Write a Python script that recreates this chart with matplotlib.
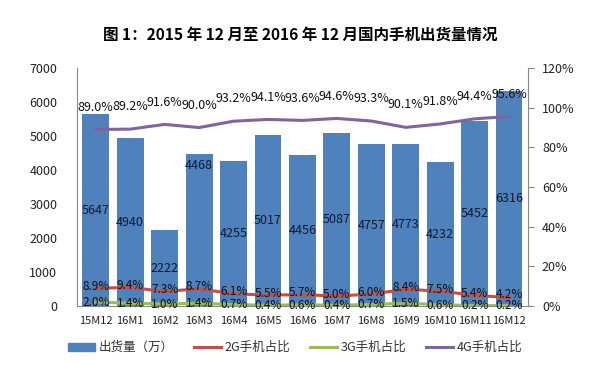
import matplotlib.pyplot as plt
from matplotlib.lines import Line2D
from matplotlib.patches import Patch

plt.rcParams['font.family'] = ['Noto Sans CJK SC', 'DejaVu Sans']

months = ['15M12', '16M1', '16M2', '16M3', '16M4', '16M5', '16M6',
          '16M7', '16M8', '16M9', '16M10', '16M11', '16M12']
shipments = [5647, 4940, 2222, 4468, 4255, 5017, 4456,
             5087, 4757, 4773, 4232, 5452, 6316]
share_2g = [8.9, 9.4, 7.3, 8.7, 6.1, 5.5, 5.7, 5.0, 6.0, 8.4, 7.5, 5.4, 4.2]
share_3g = [2.0, 1.4, 1.0, 1.4, 0.7, 0.4, 0.6, 0.4, 0.7, 1.5, 0.6, 0.2, 0.2]
share_4g = [89.0, 89.2, 91.6, 90.0, 93.2, 94.1, 93.6,
            94.6, 93.3, 90.1, 91.8, 94.4, 95.6]

BLUE = '#4F81BD'
RED = '#C0504D'
GREEN = '#9BBB59'
PURPLE = '#8064A2'

fig = plt.figure(figsize=(6, 3.66), dpi=100)
ax = fig.add_axes([0.128, 0.164, 0.752, 0.65])
ax2 = ax.twinx()

x = list(range(len(months)))
ax.bar(x, shipments, width=0.78, color=BLUE, zorder=2)
ax.set_ylim(0, 7000)
ax.set_yticks(range(0, 7001, 1000))
ax.set_xlim(-0.55, len(months) - 0.45)
ax.set_xticks(x)
ax.set_xticklabels(months, fontsize=8)

for i, v in enumerate(shipments):
    y = v / 2
    if months[i] == '16M3':
        y = v - 320
    ax.text(i, y, str(v), ha='center', va='center', fontsize=9,
            color='#0a1a33', zorder=3)

ax2.plot(x, share_2g, color=RED, lw=2.2, zorder=3)
ax2.plot(x, share_3g, color=GREEN, lw=2.2, zorder=3)
ax2.plot(x, share_4g, color=PURPLE, lw=2.2, zorder=3)
ax2.set_ylim(0, 120)
ax2.set_yticks(range(0, 121, 20))
ax2.set_yticklabels([f'{t}%' for t in range(0, 121, 20)])

for i in x:
    ax2.text(i, share_4g[i] + 8, f'{share_4g[i]:.1f}%', ha='center',
             va='bottom', fontsize=9, color='#111111', zorder=4)
    ax2.text(i, max(share_2g[i] + 1.0, 5.8), f'{share_2g[i]:.1f}%',
             ha='center', va='center', fontsize=8.5, color='#111111',
             zorder=4)
    ax2.text(i, share_3g[i] - 0.2, f'{share_3g[i]:.1f}%', ha='center',
             va='center', fontsize=8.5, color='#111111', zorder=4)

for a in (ax, ax2):
    a.spines['top'].set_visible(False)
    for s in ('left', 'right', 'bottom'):
        a.spines[s].set_color('#888888')
    a.tick_params(axis='y', labelsize=9, colors='#222222')
ax.tick_params(axis='y', length=0, pad=14)
ax.tick_params(axis='x', length=0, pad=7, colors='#222222')
ax2.tick_params(axis='y', length=4, color='#888888', pad=6)
ax.spines['right'].set_visible(False)
ax2.spines['left'].set_visible(False)
ax2.spines['bottom'].set_visible(False)

fig.text(0.5, 0.905, '图 1：2015 年 12 月至 2016 年 12 月国内手机出货量情况',
         ha='center', va='center', fontsize=11.2, fontweight='bold')

handles = [Patch(color=BLUE), Line2D([], [], color=RED, lw=2.2),
           Line2D([], [], color=GREEN, lw=2.2),
           Line2D([], [], color=PURPLE, lw=2.2)]
labels = ['出货量（万）', '2G手机占比', '3G手机占比', '4G手机占比']
fig.legend(handles, labels, loc='center', bbox_to_anchor=(0.492, 0.05),
           ncol=4, frameon=False, fontsize=9, handlelength=2.15,
           handleheight=0.55, columnspacing=1.6, handletextpad=0.3,
           labelcolor='#333333')

fig.savefig('out.png', dpi=100)
